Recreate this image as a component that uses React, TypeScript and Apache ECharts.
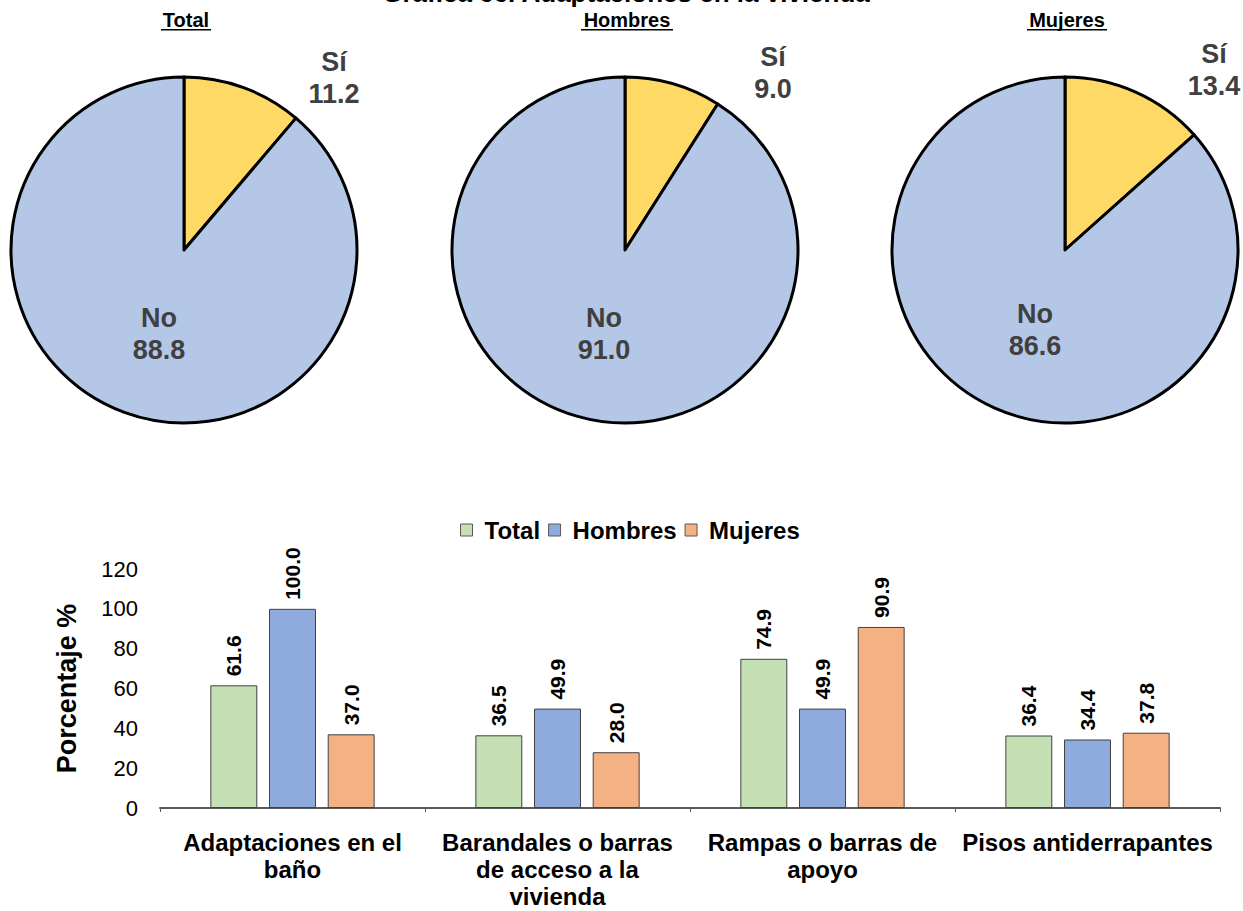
import React, { useEffect, useRef } from "react";
import * as echarts from "echarts";

const pieTitles = ["Total", "Hombres", "Mujeres"];
const pieNames = ["Sí", "No"];
const pieSi = [11.2, 9.0, 13.4];
const pieNo = [88.8, 91.0, 86.6];

const categories = [
  "Adaptaciones en el\nbaño",
  "Barandales o barras\nde acceso a la\nvivienda",
  "Rampas o barras de\napoyo",
  "Pisos antiderrapantes",
];
const seriesNames = ["Total", "Hombres", "Mujeres"];
const totalValues = [61.6, 36.5, 74.9, 36.4];
const hombresValues = [100.0, 49.9, 49.9, 34.4];
const mujeresValues = [37.0, 28.0, 90.9, 37.8];
const yTicks = [0, 20, 40, 60, 80, 100, 120];

const FONT = "'Liberation Sans', Arial, sans-serif";

export default function App() {
  const ref = useRef<HTMLDivElement>(null);
  useEffect(() => {
    document.body.style.margin = "0";
    const chart = echarts.init(ref.current!, null, { renderer: "svg" });
    const pieCenters = [
      [184, 250],
      [625, 250],
      [1065, 250],
    ];
    const siLabelPos = [
      [334, 78],
      [773, 73],
      [1214, 70],
    ];
    const noLabelPos = [
      [159, 334],
      [604, 334],
      [1035, 330],
    ];
    const underlineW = [50, 92, 80];
    const pieSeries = pieTitles.map((t, i) => ({
      type: "pie",
      name: "pie-" + t,
      center: pieCenters[i],
      radius: 173,
      startAngle: 90,
      clockwise: true,
      z: 1,
      label: { show: false },
      labelLine: { show: false },
      emphasis: { disabled: true },
      itemStyle: { borderColor: "#000000", borderWidth: 3 },
      data: [
        { name: pieNames[0], value: pieSi[i], itemStyle: { color: "#FFD966" } },
        { name: pieNames[1], value: pieNo[i], itemStyle: { color: "#B4C7E7" } },
      ],
    }));
    const graphics: any[] = [
      {
        type: "text",
        x: 626,
        y: -20,
        z: 100,
        style: {
          text: "Gráfica 66. Adaptaciones en la vivienda",
          font: `bold 26px ${FONT}`,
          fill: "#000",
          align: "center",
          verticalAlign: "top",
        },
      },
    ];
    pieTitles.forEach((t, i) => {
      graphics.push({
        type: "text",
        x: pieCenters[i][0] + 2,
        y: 20,
        z: 100,
        style: {
          text: t,
          font: `bold 20px ${FONT}`,
          fill: "#000",
          align: "center",
          verticalAlign: "middle",
        },
      });
      graphics.push({
        type: "rect",
        z: 100,
        shape: { x: pieCenters[i][0] + 2 - underlineW[i] / 2, y: 29, width: underlineW[i], height: 1.5 },
        style: { fill: "#000" },
      });
      graphics.push({
        type: "text",
        x: siLabelPos[i][0],
        y: siLabelPos[i][1],
        z: 100,
        style: {
          text: `${pieNames[0]}\n${pieSi[i].toFixed(1)}`,
          font: `bold 27px ${FONT}`,
          lineHeight: 32,
          fill: "#404040",
          align: "center",
          verticalAlign: "middle",
        },
      });
      graphics.push({
        type: "text",
        x: noLabelPos[i][0],
        y: noLabelPos[i][1],
        z: 100,
        style: {
          text: `${pieNames[1]}\n${pieNo[i].toFixed(1)}`,
          font: `bold 27px ${FONT}`,
          lineHeight: 32,
          fill: "#404040",
          align: "center",
          verticalAlign: "middle",
        },
      });
    });

    const barColors = ["#C5E0B4", "#8FAADC", "#F4B183"];
    const barData = [totalValues, hombresValues, mujeresValues];
    const barSeries = seriesNames.map((n, i) => ({
      type: "bar",
      name: n,
      data: barData[i],
      barGap: "25%",
      barCategoryGap: "38%",
      itemStyle: { color: barColors[i], borderColor: "#404040", borderWidth: 1 },
      emphasis: { disabled: true },
      label: {
        show: true,
        position: "top",
        rotate: 90,
        align: "left",
        verticalAlign: "middle",
        distance: 9,
        formatter: (p: any) => p.value.toFixed(1),
        fontFamily: FONT,
        fontWeight: "bold",
        fontSize: 21,
        color: "#000",
      },
    }));

    chart.setOption({
      animation: false,
      textStyle: { fontFamily: FONT },
      graphic: graphics,
      legend: {
        data: seriesNames,
        top: 513,
        left: 455,
        itemWidth: 12,
        itemHeight: 12,
        itemGap: 8,
        icon: "rect",
        itemStyle: { borderColor: "#595959", borderWidth: 1 },
        textStyle: { fontFamily: FONT, fontWeight: "bold", fontSize: 24, color: "#000", padding: [0, 0, 0, 7] },
      },
      grid: { left: 160, right: 23, top: 569, bottom: 103, outerBoundsMode: "none", containLabel: false },
      xAxis: {
        type: "category",
        data: categories,
        axisLine: { lineStyle: { color: "#595959", width: 2 } },
        axisTick: { show: true, length: 4, lineStyle: { color: "#595959" } },
        axisLabel: {
          interval: 0,
          margin: 21,
          fontFamily: FONT,
          fontWeight: "bold",
          fontSize: 24,
          lineHeight: 27,
          color: "#000",
        },
      },
      yAxis: {
        type: "value",
        min: yTicks[0],
        max: yTicks[yTicks.length - 1],
        interval: 20,
        name: "Porcentaje %",
        nameLocation: "middle",
        nameGap: 80,
        nameTextStyle: { fontFamily: FONT, fontWeight: "bold", fontSize: 27, color: "#000" },
        axisLine: { show: false },
        axisTick: { show: false },
        splitLine: { show: false },
        axisLabel: { fontFamily: FONT, fontSize: 22, color: "#000", margin: 22 },
      },
      series: [...pieSeries, ...barSeries],
    });
    return () => chart.dispose();
  }, []);
  return <div ref={ref} style={{ width: 1243, height: 911 }} />;
}
